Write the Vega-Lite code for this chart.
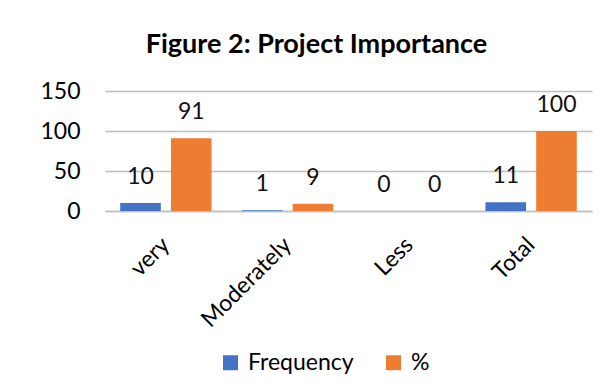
{
  "$schema": "https://vega.github.io/schema/vega-lite/v6.json",
  "autosize": "none",
  "width": 487,
  "height": 120,
  "padding": {"left": 105, "top": 91, "right": 21, "bottom": 180},
  "background": "white",
  "title": {
    "text": "Figure 2: Project Importance",
    "anchor": "middle",
    "frame": "group",
    "dx": -32,
    "offset": 21,
    "font": "Lato",
    "fontSize": 27,
    "fontWeight": "bold",
    "color": "#000000"
  },
  "data": {
    "values": [
      {"category": "very", "series": "Frequency", "value": 10},
      {"category": "very", "series": "%", "value": 91},
      {"category": "Moderately", "series": "Frequency", "value": 1},
      {"category": "Moderately", "series": "%", "value": 9},
      {"category": "Less", "series": "Frequency", "value": 0},
      {"category": "Less", "series": "%", "value": 0},
      {"category": "Total", "series": "Frequency", "value": 11},
      {"category": "Total", "series": "%", "value": 100}
    ]
  },
  "encoding": {
    "x": {
      "field": "category",
      "type": "nominal",
      "sort": ["very", "Moderately", "Less", "Total"],
      "scale": {"paddingInner": 0, "paddingOuter": 0},
      "axis": {
        "title": null,
        "labelAngle": -45,
        "labelAlign": "right",
        "labelBaseline": "middle",
        "labelPadding": 30,
        "ticks": false,
        "domain": true,
        "domainColor": "#BFBFBF",
        "domainWidth": 1.5,
        "labelFont": "Lato",
        "labelFontSize": 23,
        "labelColor": "#000000"
      }
    },
    "xOffset": {
      "field": "series",
      "type": "nominal",
      "sort": ["Frequency", "%"],
      "scale": {"paddingInner": 0.2, "paddingOuter": 0.3}
    },
    "y": {
      "field": "value",
      "type": "quantitative",
      "scale": {"domain": [0, 150]},
      "axis": {
        "title": null,
        "values": [0, 50, 100, 150],
        "ticks": false,
        "domain": false,
        "grid": true,
        "gridColor": "#BFBFBF",
        "gridWidth": 1.5,
        "labelPadding": 25,
        "labelFont": "Lato",
        "labelFontSize": 23,
        "labelColor": "#000000"
      }
    }
  },
  "layer": [
    {
      "mark": {"type": "bar"},
      "encoding": {
        "color": {
          "field": "series",
          "type": "nominal",
          "sort": ["Frequency", "%"],
          "scale": {"domain": ["Frequency", "%"], "range": ["#4472C4", "#ED7D31"]},
          "legend": {
            "title": null,
            "orient": "none",
            "direction": "horizontal",
            "legendX": 114,
            "legendY": 260,
            "symbolType": "square",
            "symbolSize": 225,
            "symbolStrokeWidth": 0,
            "labelFont": "Lato",
            "labelFontSize": 23,
            "labelColor": "#000000",
            "labelOffset": 6,
            "columnPadding": 28,
            "padding": 0
          }
        }
      }
    },
    {
      "mark": {
        "type": "text",
        "baseline": "middle",
        "dy": -26,
        "font": "Lato",
        "fontSize": 23,
        "color": "#111111"
      },
      "encoding": {
        "text": {"field": "value", "type": "quantitative"}
      }
    }
  ],
  "config": {
    "view": {"stroke": null}
  }
}
